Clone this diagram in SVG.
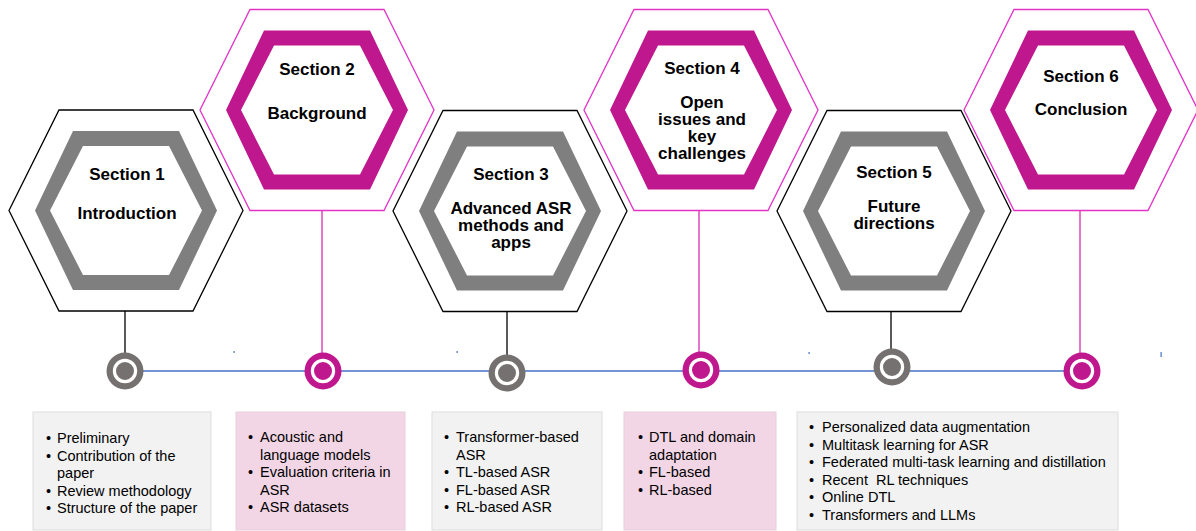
<svg xmlns="http://www.w3.org/2000/svg" width="1196" height="531" viewBox="0 0 1196 531">
<style>
.outerG{fill:none;stroke:#000;stroke-width:1.3}
.outerM{fill:none;stroke:#E233C6;stroke-width:1.3}
.ringG{fill:#7F7F7F;fill-rule:evenodd}
.ringM{fill:#BF178D;fill-rule:evenodd}
.ht{font-family:"Liberation Sans",Arial,sans-serif;font-size:17px;font-weight:bold;fill:#000;text-anchor:middle}
.bt{font-family:"Liberation Sans",Arial,sans-serif;font-size:14.5px;fill:#000}
.boxG{fill:#F2F2F2;stroke:#DDDDDD;stroke-width:1}
.boxP{fill:#F2D6E6;stroke:#E8D0DE;stroke-width:1}
.vG{stroke:#000;stroke-width:1.3}
.vM{stroke:#D92CB2;stroke-width:1.3}
.cG{fill:#767171}
.cM{fill:#BF178D}
.cw{fill:none;stroke:#fff;stroke-width:3.2}
</style>
<defs>
<path id="outer" d="M-67,-100.5 L67,-100.5 L117,0 L67,100.5 L-67,100.5 L-117,0 Z"/>
<path id="ring" d="M-53,-79.5 L53,-79.5 L91,0 L53,79.5 L-53,79.5 L-91,0 Z M-43,-64.5 L43,-64.5 L76,0 L43,64.5 L-43,64.5 L-76,0 Z"/>
</defs>

<g id="connectors">
<line x1="125" y1="371" x2="1082" y2="371" stroke="#4472C4" stroke-width="1.5"/>
<line class="vG" x1="125" y1="311" x2="125" y2="355"/>
<line class="vM" x1="322" y1="211" x2="322" y2="355"/>
<line class="vG" x1="507" y1="312" x2="507" y2="357"/>
<line class="vM" x1="699" y1="211" x2="699" y2="355"/>
<line class="vG" x1="891" y1="312" x2="891" y2="351"/>
<line class="vM" x1="1080" y1="211" x2="1080" y2="355"/>
<rect x="233.5" y="351" width="1.2" height="2" fill="#4472C4"/>
<rect x="456.5" y="351" width="1.2" height="2" fill="#4472C4"/>
<rect x="808.5" y="352" width="1.2" height="2" fill="#4472C4"/>
<rect x="1160.5" y="352" width="1.2" height="5" fill="#4472C4"/>
</g>

<g id="section1">
<use href="#outer" class="outerG" transform="translate(126,210.5)"/>
<use href="#ring" class="ringG" transform="translate(126,210.5)"/>
<text class="ht" x="127" y="180">Section 1</text>
<text class="ht" x="127" y="219">Introduction</text>
</g>
<g id="section2">
<use href="#outer" class="outerM" transform="translate(317,110)"/>
<use href="#ring" class="ringM" transform="translate(317,110)"/>
<text class="ht" x="317" y="75">Section 2</text>
<text class="ht" x="317" y="119">Background</text>
</g>
<g id="section3">
<use href="#outer" class="outerG" transform="translate(510,211)"/>
<use href="#ring" class="ringG" transform="translate(510,211)"/>
<text class="ht" x="511" y="180">Section 3</text>
<text class="ht" x="511" y="214">Advanced ASR</text>
<text class="ht" x="511" y="231">methods and</text>
<text class="ht" x="511" y="248">apps</text>
</g>
<g id="section4">
<use href="#outer" class="outerM" transform="translate(701,110)"/>
<use href="#ring" class="ringM" transform="translate(701,110)"/>
<text class="ht" x="702" y="74">Section 4</text>
<text class="ht" x="702" y="108">Open</text>
<text class="ht" x="702" y="125">issues and</text>
<text class="ht" x="702" y="142">key</text>
<text class="ht" x="702" y="159">challenges</text>
</g>
<g id="section5">
<use href="#outer" class="outerG" transform="translate(894,211)"/>
<use href="#ring" class="ringG" transform="translate(894,211)"/>
<text class="ht" x="894" y="178">Section 5</text>
<text class="ht" x="894" y="212">Future</text>
<text class="ht" x="894" y="229">directions</text>
</g>
<g id="section6">
<use href="#outer" class="outerM" transform="translate(1081,110)"/>
<use href="#ring" class="ringM" transform="translate(1081,110)"/>
<text class="ht" x="1081" y="82">Section 6</text>
<text class="ht" x="1081" y="115">Conclusion</text>
</g>

<g id="markers">
<g id="m1"><circle class="cG" cx="125" cy="371" r="18.5"/><circle class="cw" cx="125" cy="371" r="10.6"/></g>
<g id="m2"><circle class="cM" cx="323" cy="371" r="18.5"/><circle class="cw" cx="323" cy="371" r="10.6"/></g>
<g id="m3"><circle class="cG" cx="507" cy="373" r="18.5"/><circle class="cw" cx="507" cy="373" r="10.6"/></g>
<g id="m4"><circle class="cM" cx="701" cy="370" r="18.5"/><circle class="cw" cx="701" cy="370" r="10.6"/></g>
<g id="m5"><circle class="cG" cx="892" cy="367" r="18.5"/><circle class="cw" cx="892" cy="367" r="10.6"/></g>
<g id="m6"><circle class="cM" cx="1082" cy="371" r="18.5"/><circle class="cw" cx="1082" cy="371" r="10.6"/></g>
</g>

<g id="box1">
<rect class="boxG" x="33" y="412" width="178" height="118"/>
<text class="bt"><tspan x="46" y="443">•</tspan><tspan x="57" y="443">Preliminary</tspan><tspan x="46" y="460.5">•</tspan><tspan x="57" y="460.5">Contribution of the</tspan><tspan x="57" y="478">paper</tspan><tspan x="46" y="495.5">•</tspan><tspan x="57" y="495.5">Review methodology</tspan><tspan x="46" y="513">•</tspan><tspan x="57" y="513">Structure of the paper</tspan></text>
</g>
<g id="box2">
<rect class="boxP" x="236" y="412" width="169" height="118"/>
<text class="bt"><tspan x="248" y="442">•</tspan><tspan x="260" y="442">Acoustic and</tspan><tspan x="260" y="459.5">language models</tspan><tspan x="248" y="477">•</tspan><tspan x="260" y="477">Evaluation criteria in</tspan><tspan x="260" y="494.5">ASR</tspan><tspan x="248" y="512">•</tspan><tspan x="260" y="512">ASR datasets</tspan></text>
</g>
<g id="box3">
<rect class="boxG" x="432" y="412" width="170" height="118"/>
<text class="bt"><tspan x="444" y="442">•</tspan><tspan x="456" y="442">Transformer-based</tspan><tspan x="456" y="459.5">ASR</tspan><tspan x="444" y="477">•</tspan><tspan x="456" y="477">TL-based ASR</tspan><tspan x="444" y="494.5">•</tspan><tspan x="456" y="494.5">FL-based ASR</tspan><tspan x="444" y="512">•</tspan><tspan x="456" y="512">RL-based ASR</tspan></text>
</g>
<g id="box4">
<rect class="boxP" x="624" y="412" width="152" height="118"/>
<text class="bt"><tspan x="638" y="442">•</tspan><tspan x="649" y="442">DTL and domain</tspan><tspan x="649" y="459.5">adaptation</tspan><tspan x="638" y="477">•</tspan><tspan x="649" y="477">FL-based</tspan><tspan x="638" y="494.5">•</tspan><tspan x="649" y="494.5">RL-based</tspan></text>
</g>
<g id="box5">
<rect class="boxG" x="797" y="412" width="321" height="118"/>
<text class="bt"><tspan x="809" y="432">•</tspan><tspan x="822" y="432">Personalized data augmentation</tspan><tspan x="809" y="449.5">•</tspan><tspan x="822" y="449.5">Multitask learning for ASR</tspan><tspan x="809" y="467">•</tspan><tspan x="822" y="467">Federated multi-task learning and distillation</tspan><tspan x="809" y="484.5">•</tspan><tspan x="822" y="484.5">Recent&#160; RL techniques</tspan><tspan x="809" y="502">•</tspan><tspan x="822" y="502">Online DTL</tspan><tspan x="809" y="519.5">•</tspan><tspan x="822" y="519.5">Transformers and LLMs</tspan></text>
</g>
</svg>
